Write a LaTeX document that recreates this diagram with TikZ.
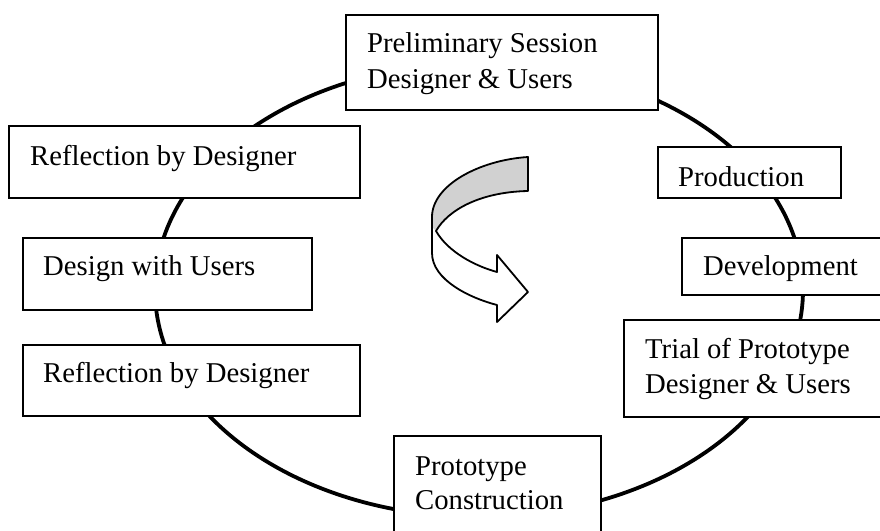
\documentclass[tikz,border=0pt]{standalone}
\usepackage{fontspec}
\setmainfont{Liberation Serif}
\usetikzlibrary{calc}
\definecolor{band}{gray}{0.82}
\tikzset{
  stage/.style={draw, line width=1.5pt, fill=white, inner sep=0pt, outer sep=0pt, anchor=north west},
  caption/.style={anchor=base west, inner sep=0pt, font=\fontsize{28.7}{35}\selectfont},
  loopline/.style={line width=3.8pt},
  ribbon/.style={line width=1.8pt, line join=round},
}
\begin{document}
\begin{tikzpicture}[x=1pt,y=-1pt]
\useasboundingbox (0,0) rectangle (880,530);
\clip (0,0) rectangle (880,530);

% the cycle
\draw[loopline] (479,290) ellipse [x radius=324, y radius=227];

% stage boxes
\node[stage, minimum width=312pt, minimum height=95pt]  (prelim) at (346,15)  {};
\node[stage, minimum width=351pt, minimum height=72pt]  (reflA)  at (9,126)   {};
\node[stage, minimum width=289pt, minimum height=72pt]  (design) at (23,238)  {};
\node[stage, minimum width=337pt, minimum height=71pt]  (reflB)  at (23,345)  {};
\node[stage, minimum width=183pt, minimum height=51pt]  (prod)   at (658,147) {};
\node[stage, minimum width=220pt, minimum height=57pt]  (devel)  at (682,238) {};
\node[stage, minimum width=270pt, minimum height=97pt]  (trial)  at (624,320) {};
\node[stage, minimum width=207pt, minimum height=110pt] (proto)  at (394,436) {};

% stage texts
\node[caption] (prelimA) at ($(prelim.north west)+(21,37)$) {Preliminary Session};
\node[caption] (prelimB) at ($(prelim.north west)+(21,73)$) {Designer \& Users};
\node[caption] (reflAt)  at ($(reflA.north west)+(21,39)$)  {Reflection by Designer};
\node[caption] (designt) at ($(design.north west)+(20,37)$) {Design with Users};
\node[caption] (reflBt)  at ($(reflB.north west)+(20,37)$)  {Reflection by Designer};
\node[caption] (prodt)   at ($(prod.north west)+(20,39)$)   {Production};
\node[caption] (develt)  at ($(devel.north west)+(21,37)$)  {Development};
\node[caption] (trialA)  at ($(trial.north west)+(21,38)$)  {Trial of Prototype};
\node[caption] (trialB)  at ($(trial.north west)+(21,73)$)  {Designer \& Users};
\node[caption] (protoA)  at ($(proto.north west)+(21,39)$)  {Prototype};
\node[caption] (protoB)  at ($(proto.north west)+(21,73)$)  {Construction};

% turning ribbon arrow in the middle
\def\ribbonpath{(528,157) .. controls (480,160) and (432,185) .. (432,217)
  -- (432,253) .. controls (432,280) and (470,298) .. (497,305)
  -- (497,322) -- (528,292) -- (497,255) -- (497,272)
  .. controls (475,266) and (448,252) .. (436,231)
  .. controls (448,210) and (480,192) .. (528,191) -- cycle}
\fill[white] \ribbonpath;
\fill[band] (528,157) .. controls (480,160) and (432,185) .. (432,217)
  -- (432,227) -- (436,231)
  .. controls (448,210) and (480,192) .. (528,191) -- cycle;
\draw[ribbon] \ribbonpath;
\end{tikzpicture}
\end{document}
